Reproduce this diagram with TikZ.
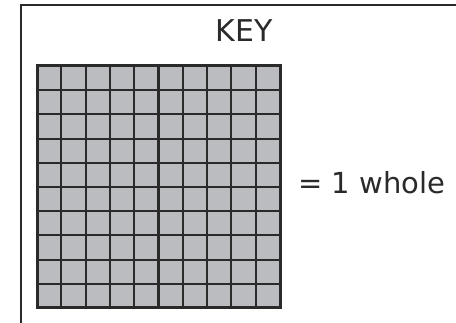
\documentclass[tikz,border=0pt]{standalone}
\usepackage{fontspec}
\setmainfont{DejaVu Sans}
\definecolor{cellgray}{HTML}{BBBCC0}
\definecolor{linedark}{HTML}{2A2A2A}
\tikzset{
  keyframe/.style={draw=linedark, line width=2.4pt},
  gridline/.style={draw=linedark, line width=2.1pt},
  gridborder/.style={draw=linedark, line width=3pt},
  keytext/.style={font=\fontsize{30}{36}\selectfont, text=linedark, inner sep=0pt},
  labeltext/.style={font=\fontsize{29}{35}\selectfont, text=linedark, inner sep=0pt},
}
\begin{document}
\begin{tikzpicture}[x=1pt,y=-1pt]
\useasboundingbox (0,0) rectangle (456,323);
\clip (0,0) rectangle (456,323);
\draw[keyframe] (21,5) rectangle (480,360);
\node[keytext, anchor=base] (key) at (244,42) {KEY};
% grid 10x10
\fill[cellgray] (37,66) rectangle (280,308);
\foreach \i in {1,...,9}{
  \draw[gridline] ({37+\i*24.3},66) -- ({37+\i*24.3},308);
  \draw[gridline] (37,{66+\i*24.2}) -- (280,{66+\i*24.2});
}
\draw[gridborder] (37,66) rectangle (280,308);
\node[labeltext, anchor=base west] (whole) at (298,194) {= 1 whole};
\end{tikzpicture}
\end{document}
